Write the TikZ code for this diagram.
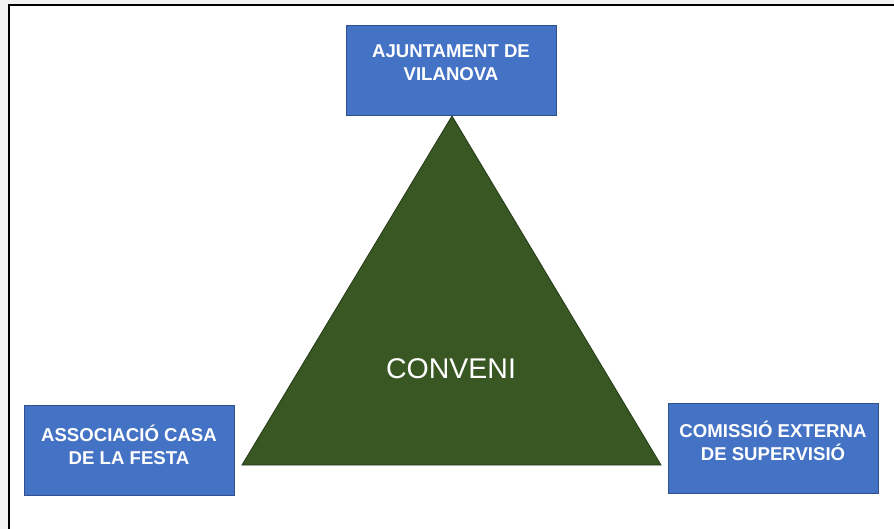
\documentclass[tikz,border=0pt]{standalone}
\usepackage{fontspec}
\setmainfont{Liberation Sans}
\definecolor{boxblue}{HTML}{4472C4}
\definecolor{boxedge}{HTML}{2F528F}
\definecolor{trigreen}{HTML}{385723}
\definecolor{triedge}{HTML}{253A17}
\definecolor{bggray}{HTML}{F3F3F3}
\begin{document}
\begin{tikzpicture}[x=1pt,y=-1pt,
  entity/.style={draw=boxedge, line width=1pt, fill=boxblue, minimum width=210pt, minimum height=90pt, inner sep=0pt},
  lbl/.style={text=white, font=\bfseries\fontsize{18.6}{22.5}\selectfont, align=center, inner sep=0pt, anchor=north}]
\useasboundingbox (0,0) rectangle (894,529);
\fill[bggray] (0,0) rectangle (894,529);
\fill[white] (9,5) rectangle (894,529);
\draw[black, line width=2pt] (9,529) -- (9,5) -- (894,5);
% triangle
\draw[triedge, line width=0.8pt, fill=trigreen] (452,116) -- (661,465) -- (242,465) -- cycle;
\node[text=white, font=\fontsize{28.5}{31}\selectfont, inner sep=0pt] (conv) at (451,369) {CONVENI};
% boxes
\node[entity] (aj) at (451,71) {};
\node[entity] (as) at (129.5,450) {};
\node[entity] (co) at (773.5,448.5) {};
\node[lbl] (ajt) at (451,45) {AJUNTAMENT DE\\VILANOVA};
\node[lbl] (ast) at (129,425) {ASSOCIACIÓ CASA\\DE LA FESTA};
\node[lbl] (cot) at (773,421) {COMISSIÓ EXTERNA\\DE SUPERVISIÓ};
\end{tikzpicture}
\end{document}
